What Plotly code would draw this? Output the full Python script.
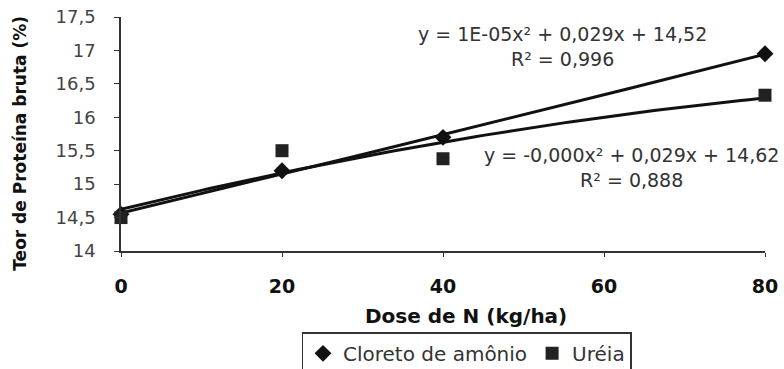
import numpy as np
import plotly.graph_objects as go

# Data
doses = [0, 20, 40, 80]
cloreto = [14.55, 15.2, 15.7, 16.95]
ureia = [14.5, 15.5, 15.38, 16.33]
series_names = ["Cloreto de amônio", "Uréia"]
eq_cloreto = ["y = 1E-05x² + 0,029x + 14,52", "R² = 0,996"]
eq_ureia = ["y = -0,000x² + 0,029x + 14,62", "R² = 0,888"]
y_ticks = [14, 14.5, 15, 15.5, 16, 16.5, 17, 17.5]
x_ticks = [0, 20, 40, 60, 80]

# Polynomial (order 2) trendlines fitted from the data
xs = np.linspace(0, 80, 81)
fit_c = np.polyval(np.polyfit(doses, cloreto, 2), xs)
fit_u = np.polyval(np.polyfit(doses, ureia, 2), xs)

W, H = 784, 369
L, R, T, B = 121, 19, 17, 117.5
pw, ph = W - L - R, H - T - B

def px_x(p):
    return (p - L) / pw

def px_y(p):
    return (H - B - p) / ph

fig = go.Figure()
fig.add_trace(go.Scatter(x=xs, y=fit_c, mode="lines", line=dict(color="#111", width=3),
                         showlegend=False, hoverinfo="skip"))
fig.add_trace(go.Scatter(x=xs, y=fit_u, mode="lines", line=dict(color="#111", width=3),
                         showlegend=False, hoverinfo="skip"))
fig.add_trace(go.Scatter(x=doses, y=cloreto, mode="markers", name=series_names[0],
                         marker=dict(symbol="diamond", size=13, color="#111"), cliponaxis=False))
fig.add_trace(go.Scatter(x=doses, y=ureia, mode="markers", name=series_names[1],
                         marker=dict(symbol="square", size=13, color="#222"), cliponaxis=False))

reg = "DejaVu Sans"
fig.update_layout(
    width=W, height=H,
    margin=dict(l=L, r=R, t=T, b=B, autoexpand=False),
    paper_bgcolor="white", plot_bgcolor="white",
    separators=",.",
    font=dict(family=reg, color="#333"),
    xaxis=dict(range=[0, 80], tickvals=x_ticks, showgrid=False, zeroline=False,
               showline=True, linecolor="#333", linewidth=1.5,
               ticks="outside", ticklen=4, tickcolor="#333",
               ticklabelstandoff=13,
               tickfont=dict(family=reg, size=19, color="#111", weight="bold")),
    yaxis=dict(range=[14, 17.5], tickvals=y_ticks, showgrid=False, zeroline=False,
               showline=True, linecolor="#333", linewidth=1.5,
               ticks="outside", ticklen=5, tickcolor="#333",
               ticklabelstandoff=15,
               tickfont=dict(family=reg, size=18, color="#444")),
    legend=dict(orientation="h", x=px_x(466.5), xanchor="center", y=px_y(333), yanchor="top",
                bordercolor="#333", borderwidth=1.5, bgcolor="white",
                font=dict(family=reg, size=20, color="#333"), itemwidth=30,
                tracegroupgap=0),
    showlegend=True,
)

common = dict(xref="paper", yref="paper", showarrow=False, xanchor="center", yanchor="middle")
fig.add_annotation(x=px_x(562), y=px_y(46.5), text="<br>".join(eq_cloreto), align="center",
                   font=dict(family=reg, size=19, color="#333"), **common)
fig.add_annotation(x=px_x(631), y=px_y(168), text="<br>".join(eq_ureia), align="center",
                   font=dict(family=reg, size=19, color="#333"), **common)
fig.add_annotation(x=px_x(466), y=px_y(317), text="Dose de N (kg/ha)",
                   font=dict(family=reg, size=20, color="#111", weight="bold"), **common)
fig.add_annotation(x=px_x(20), y=px_y(144), text="Teor de Proteína bruta (%)", textangle=-90,
                   font=dict(family=reg, size=17, color="#111", weight="bold"), **common)

fig.write_html("out.html")
